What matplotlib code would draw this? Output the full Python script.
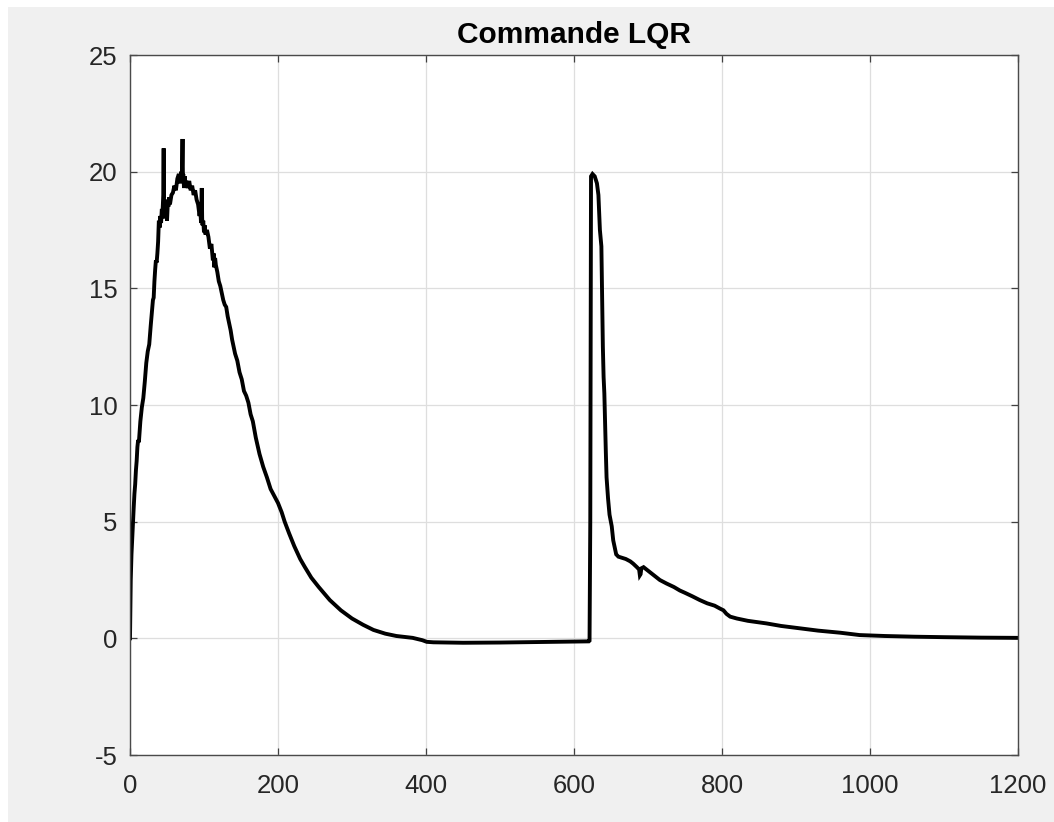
import matplotlib
matplotlib.use("Agg")
import matplotlib.pyplot as plt
from matplotlib.patches import Rectangle

title = "Commande LQR"
x_ticks = [0, 200, 400, 600, 800, 1000, 1200]
y_ticks = [-5, 0, 5, 10, 15, 20, 25]

t = [0, 0.5, 1, 2, 3, 4, 5, 6, 7, 8, 9, 10, 11, 12, 14, 16, 18, 20, 22, 24, 26, 28, 30, 31, 32, 33, 34, 35,
     36, 37, 38, 39, 40, 41, 42, 43, 44, 45, 45.5, 46, 47, 48, 49, 50, 51, 52, 53, 54, 56, 58, 60, 62, 64,
     66, 68, 69, 70, 71, 71.5, 72, 73, 74, 75, 76, 78, 80, 82, 84, 86, 88, 90, 92, 94, 95, 96, 97, 97.5,
     98, 99, 100, 101, 102, 104, 106, 108, 110, 112, 113, 114, 115, 116, 118, 120, 122, 124, 126, 128,
     130, 132, 134, 136, 138, 140, 142, 145, 148, 151, 154, 157, 160, 163, 166, 170, 175, 180, 185, 190,
     195, 200, 205, 209, 215, 222, 230, 236, 245, 255, 270, 285, 300, 315, 329, 345, 360, 382, 395, 401,
     410, 450, 500, 550, 600, 620, 621, 622, 623, 625, 628, 631, 633, 635, 637, 638, 639, 640, 641, 642,
     643, 644, 646, 648, 651, 653, 655, 657, 660, 665, 670, 676, 680, 685, 688, 689, 690, 691, 694, 700,
     708, 716, 725, 735, 743, 750, 760, 770, 780, 790, 797, 802, 806, 811, 820, 835, 860, 880, 905, 930,
     960, 986, 1020, 1060, 1100, 1150, 1200]
u = [0, 1.2, 2.5, 3.6, 4.3, 5.0, 5.6, 6.2, 6.6, 7.2, 7.6, 8.2, 8.5, 8.4, 9.3, 9.9, 10.3, 11.0, 11.8, 12.3,
     12.6, 13.4, 14.1, 14.5, 14.6, 15.3, 15.8, 16.2, 16.1, 16.5, 17.0, 17.9, 17.6, 18.1, 17.8, 18.4, 18.3,
     19.0, 21.0, 18.0, 18.6, 18.1, 18.8, 17.9, 18.6, 18.5, 18.9, 18.6, 19.0, 19.1, 19.4, 19.2, 19.7, 19.9,
     19.5, 20.0, 19.6, 21.4, 19.8, 19.9, 19.3, 19.8, 19.4, 19.6, 19.3, 19.6, 19.2, 19.4, 19.0, 19.2, 18.8,
     18.6, 18.1, 18.4, 17.8, 19.3, 18.0, 17.7, 17.9, 17.4, 17.7, 17.3, 17.5, 17.2, 16.7, 16.9, 16.2, 16.5,
     15.9, 16.3, 16.0, 15.7, 15.3, 15.1, 14.8, 14.5, 14.3, 14.2, 13.8, 13.5, 13.2, 12.8, 12.5, 12.2, 11.9,
     11.4, 11.1, 10.6, 10.4, 10.1, 9.6, 9.3, 8.6, 7.9, 7.35, 6.9, 6.4, 6.1, 5.8, 5.4, 5.0, 4.5, 3.95, 3.4,
     3.07, 2.6, 2.2, 1.64, 1.2, 0.85, 0.58, 0.36, 0.2, 0.1, 0.02, -0.08, -0.15, -0.17, -0.19, -0.18, -0.16,
     -0.14, -0.13, -0.1, 5.0, 19.8, 19.9, 19.8, 19.5, 19.0, 17.5, 16.8, 14.5, 12.5, 11.2, 10.5, 9.2, 8.0,
     6.9, 6.0, 5.3, 4.8, 4.2, 3.9, 3.6, 3.5, 3.45, 3.4, 3.3, 3.2, 3.05, 2.95, 2.7, 2.75, 3.0, 3.05, 2.9,
     2.7, 2.5, 2.35, 2.2, 2.05, 1.95, 1.8, 1.64, 1.5, 1.4, 1.28, 1.2, 1.05, 0.93, 0.85, 0.75, 0.64, 0.53,
     0.43, 0.33, 0.24, 0.14, 0.1, 0.07, 0.05, 0.03, 0.02]

plt.rcParams['font.family'] = ['Liberation Sans', 'DejaVu Sans']

W, H = 1054, 822
fig = plt.figure(figsize=(W / 100, H / 100), dpi=100, facecolor='#f0f0f0')
# white screenshot margins (top and left)
fig.patches.append(Rectangle((0, 1 - 7 / H), 1, 7 / H, transform=fig.transFigure,
                             facecolor='white', edgecolor='none', zorder=-10))
fig.patches.append(Rectangle((0, 0), 8 / W, 1, transform=fig.transFigure,
                             facecolor='white', edgecolor='none', zorder=-10))

ax = fig.add_axes([130 / W, (H - 755) / H, 888 / W, 700 / H])
ax.set_facecolor('white')
ax.plot(t, u, color='black', linewidth=2.8, solid_joinstyle='miter')

ax.set_xlim(0, 1200)
ax.set_ylim(-5, 25)
ax.set_xticks(x_ticks)
ax.set_yticks(y_ticks)
ax.set_xticklabels([str(v) for v in x_ticks])
ax.set_yticklabels([str(v) for v in y_ticks])
ax.grid(True, color='#dedede', linewidth=0.9)
ax.set_axisbelow(True)
ax.tick_params(direction='in', length=5, width=0.9, color='#404040',
               labelsize=18.5, labelcolor='#262626', top=True, right=True)
ax.tick_params(axis='x', pad=14)
ax.tick_params(axis='y', pad=9)
for s in ax.spines.values():
    s.set_color('#4a4a4a')
    s.set_linewidth(1.0)

ax.set_title(title, fontsize=21.5, fontweight='bold', color='black', pad=9)

fig.savefig('out.png', dpi=100, facecolor=fig.get_facecolor())
